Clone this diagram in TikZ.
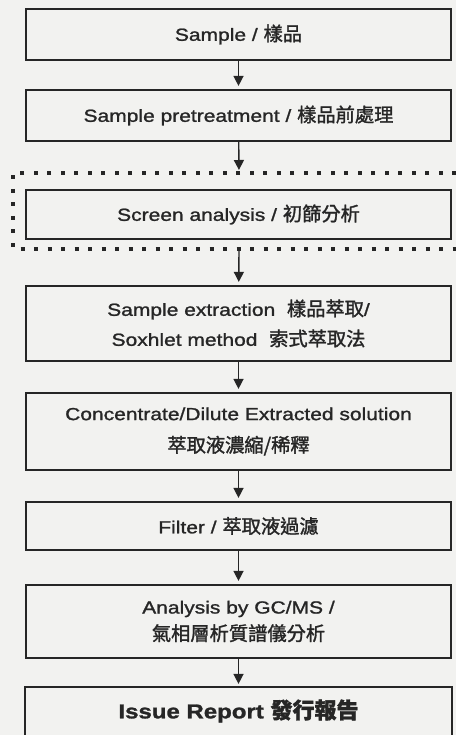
\documentclass[tikz,border=0pt]{standalone}
\usepackage{fontspec}
\setmainfont{Liberation Sans}[FakeStretch=1.2, FakeBold=1.3]
\newfontfamily\cjk{Noto Sans CJK TC}[FakeBold=1.5, Scale=1.1]
\usetikzlibrary{arrows.meta}
\definecolor{bg}{HTML}{F2F2F0}
\definecolor{ink}{HTML}{262626}
\begin{document}
\begin{tikzpicture}[x=1pt,y=-1pt,
  box/.style={draw=ink, line width=2.2pt, fill=bg, minimum width=425pt, inner sep=0pt,
    align=center, text=ink, font=\fontsize{17.5}{30}\selectfont},
  arr/.style={draw=ink, line width=1.4pt, -{Triangle[length=10pt,width=10pt]}, shorten >=3pt},
  dotline/.style={draw=ink, line width=4pt, dash pattern=on 4pt off 9.5pt}]
\useasboundingbox[fill=bg] (0,0) rectangle (456,735);

\node[box, minimum height=51pt] (b1) at (238.5,34.5) {Sample / {\cjk 樣品}};
\node[box, minimum height=51pt] (b2) at (238.5,115.5) {Sample pretreatment / {\cjk 樣品前處理}};

% dotted frame around screen analysis
\coordinate (dtr) at (456,173);
\coordinate (dtl) at (13,173);
\coordinate (dbl) at (13,249);
\coordinate (dbr) at (456,249);
\coordinate (din) at (239,173);
\coordinate (dout) at (239,249);
\draw[dotline] (dtr) -- (dtl) -- (dbl) -- (dbr);

\node[box, minimum height=49pt] (b3) at (238.5,214.5) {Screen analysis / {\cjk 初篩分析}};
\node[box, minimum height=75pt] (b4) at (238.5,323.5) {Sample extraction\ \ {\cjk 樣品萃取}/\\Soxhlet method\ \ {\cjk 索式萃取法}};
\node[box, minimum height=77pt, font=\fontsize{17.5}{32}\selectfont] (b5) at (238.5,431.5) {Concentrate/Dilute Extracted solution\\{\cjk 萃取液濃縮/稀釋}};
\node[box, minimum height=48pt] (b6) at (238.5,526) {Filter / {\cjk 萃取液過濾}};
\node[box, minimum height=73pt, font=\fontsize{17.5}{27}\selectfont] (b7) at (238.5,621.5) {Analysis by GC/MS /\\{\cjk 氣相層析質譜儀分析}};
\node[box, draw=none, minimum height=46pt, font=\fontsize{20}{24}\bfseries] (b8) at (238.5,711) {Issue Report {\cjk 發行報告}};
\draw[draw=ink, line width=2.2pt] ([yshift=-20pt]b8.south west) -- (b8.north west) -- (b8.north east) -- ([yshift=-20pt]b8.south east);

\draw[arr] (b1) -- (b2);
\draw[arr] (b2) -- (din);
\draw[arr] (dout) -- (b4);
\draw[arr] (b4) -- (b5);
\draw[arr] (b5) -- (b6);
\draw[arr] (b6) -- (b7);
\draw[arr] (b7) -- (b8);
\end{tikzpicture}
\end{document}
